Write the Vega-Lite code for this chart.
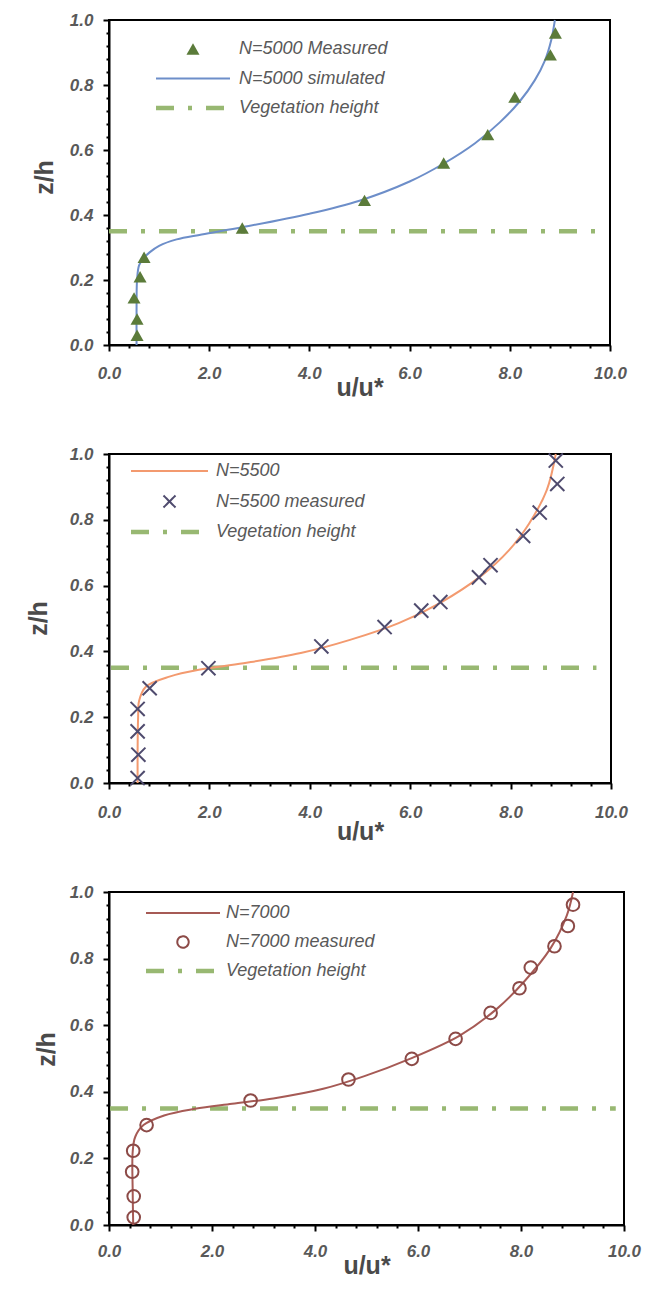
{
  "$schema": "https://vega.github.io/schema/vega-lite/v6.json",
  "padding": {"left": 25, "top": 10, "right": 4, "bottom": 4},
  "background": "white",
  "bounds": "flush",
  "spacing": 109,
  "resolve": {"scale": {"color": "independent"}, "legend": {"color": "independent"}},
  "config": {
    "view": {"stroke": "#000000", "strokeWidth": 2},
    "axis": {
      "grid": false,
      "labelFont": "Liberation Sans",
      "labelFontSize": 17,
      "labelFontStyle": "italic",
      "labelFontWeight": "bold",
      "labelColor": "#595959",
      "titleFont": "Liberation Sans",
      "titleFontWeight": "bold",
      "titleFontSize": 25,
      "titleColor": "#4a4a4a",
      "tickColor": "#000000",
      "tickWidth": 2,
      "tickSize": 6,
      "domainColor": "#000000",
      "domainWidth": 2
    },
    "legend": {
      "labelFont": "Liberation Sans",
      "labelFontSize": 18,
      "labelFontStyle": "italic",
      "labelColor": "#595959",
      "padding": 0,
      "title": null
    }
  },
  "datasets": {
    "p1_meas": [
      {"u": 0.56, "z": 0.03, "series": "N=5000 Measured"},
      {"u": 0.56, "z": 0.08, "series": "N=5000 Measured"},
      {"u": 0.5, "z": 0.145, "series": "N=5000 Measured"},
      {"u": 0.62, "z": 0.21, "series": "N=5000 Measured"},
      {"u": 0.7, "z": 0.27, "series": "N=5000 Measured"},
      {"u": 2.66, "z": 0.36, "series": "N=5000 Measured"},
      {"u": 5.1, "z": 0.445, "series": "N=5000 Measured"},
      {"u": 6.68, "z": 0.56, "series": "N=5000 Measured"},
      {"u": 7.56, "z": 0.647, "series": "N=5000 Measured"},
      {"u": 8.1, "z": 0.763, "series": "N=5000 Measured"},
      {"u": 8.81, "z": 0.893, "series": "N=5000 Measured"},
      {"u": 8.91, "z": 0.96, "series": "N=5000 Measured"}
    ],
    "p1_sim": [
      {"u": 0.55, "z": 0.0, "series": "N=5000 simulated"},
      {"u": 0.55, "z": 0.1, "series": "N=5000 simulated"},
      {"u": 0.56, "z": 0.2, "series": "N=5000 simulated"},
      {"u": 0.6, "z": 0.245, "series": "N=5000 simulated"},
      {"u": 0.68, "z": 0.265, "series": "N=5000 simulated"},
      {"u": 0.81, "z": 0.285, "series": "N=5000 simulated"},
      {"u": 1.0, "z": 0.305, "series": "N=5000 simulated"},
      {"u": 1.35, "z": 0.325, "series": "N=5000 simulated"},
      {"u": 1.85, "z": 0.34, "series": "N=5000 simulated"},
      {"u": 2.68, "z": 0.363, "series": "N=5000 simulated"},
      {"u": 4.0, "z": 0.404, "series": "N=5000 simulated"},
      {"u": 5.0, "z": 0.444, "series": "N=5000 simulated"},
      {"u": 6.0, "z": 0.503, "series": "N=5000 simulated"},
      {"u": 6.7, "z": 0.56, "series": "N=5000 simulated"},
      {"u": 7.3, "z": 0.62, "series": "N=5000 simulated"},
      {"u": 7.8, "z": 0.685, "series": "N=5000 simulated"},
      {"u": 8.2, "z": 0.75, "series": "N=5000 simulated"},
      {"u": 8.5, "z": 0.815, "series": "N=5000 simulated"},
      {"u": 8.7, "z": 0.875, "series": "N=5000 simulated"},
      {"u": 8.83, "z": 0.94, "series": "N=5000 simulated"},
      {"u": 8.9, "z": 1.0, "series": "N=5000 simulated"}
    ],
    "p1_veg": [
      {"u": 0.0, "z": 0.35, "series": "Vegetation height"},
      {"u": 9.85, "z": 0.35, "series": "Vegetation height"}
    ],
    "p2_meas": [
      {"u": 0.57, "z": 0.015, "series": "N=5500 measured"},
      {"u": 0.585, "z": 0.086, "series": "N=5500 measured"},
      {"u": 0.57, "z": 0.157, "series": "N=5500 measured"},
      {"u": 0.57, "z": 0.225, "series": "N=5500 measured"},
      {"u": 0.81, "z": 0.288, "series": "N=5500 measured"},
      {"u": 1.98, "z": 0.349, "series": "N=5500 measured"},
      {"u": 4.23, "z": 0.415, "series": "N=5500 measured"},
      {"u": 5.49, "z": 0.474, "series": "N=5500 measured"},
      {"u": 6.22, "z": 0.524, "series": "N=5500 measured"},
      {"u": 6.6, "z": 0.55, "series": "N=5500 measured"},
      {"u": 7.37, "z": 0.625, "series": "N=5500 measured"},
      {"u": 7.6, "z": 0.662, "series": "N=5500 measured"},
      {"u": 8.25, "z": 0.751, "series": "N=5500 measured"},
      {"u": 8.58, "z": 0.822, "series": "N=5500 measured"},
      {"u": 8.93, "z": 0.909, "series": "N=5500 measured"},
      {"u": 8.9, "z": 0.98, "series": "N=5500 measured"}
    ],
    "p2_sim": [
      {"u": 0.57, "z": 0.0, "series": "N=5500"},
      {"u": 0.57, "z": 0.1, "series": "N=5500"},
      {"u": 0.58, "z": 0.2, "series": "N=5500"},
      {"u": 0.6, "z": 0.25, "series": "N=5500"},
      {"u": 0.73, "z": 0.292, "series": "N=5500"},
      {"u": 1.22, "z": 0.324, "series": "N=5500"},
      {"u": 1.79, "z": 0.344, "series": "N=5500"},
      {"u": 2.68, "z": 0.364, "series": "N=5500"},
      {"u": 3.82, "z": 0.395, "series": "N=5500"},
      {"u": 4.8, "z": 0.435, "series": "N=5500"},
      {"u": 5.77, "z": 0.486, "series": "N=5500"},
      {"u": 6.59, "z": 0.547, "series": "N=5500"},
      {"u": 7.4, "z": 0.628, "series": "N=5500"},
      {"u": 7.97, "z": 0.708, "series": "N=5500"},
      {"u": 8.37, "z": 0.789, "series": "N=5500"},
      {"u": 8.72, "z": 0.89, "series": "N=5500"},
      {"u": 8.9, "z": 1.0, "series": "N=5500"}
    ],
    "p2_veg": [
      {"u": 0.04, "z": 0.35, "series": "Vegetation height"},
      {"u": 9.71, "z": 0.35, "series": "Vegetation height"}
    ],
    "p3_meas": [
      {"u": 0.48, "z": 0.023, "series": "N=7000 measured"},
      {"u": 0.48, "z": 0.086, "series": "N=7000 measured"},
      {"u": 0.45, "z": 0.16, "series": "N=7000 measured"},
      {"u": 0.47, "z": 0.223, "series": "N=7000 measured"},
      {"u": 0.73, "z": 0.3, "series": "N=7000 measured"},
      {"u": 2.75, "z": 0.374, "series": "N=7000 measured"},
      {"u": 4.65, "z": 0.437, "series": "N=7000 measured"},
      {"u": 5.88, "z": 0.499, "series": "N=7000 measured"},
      {"u": 6.73, "z": 0.559, "series": "N=7000 measured"},
      {"u": 7.41, "z": 0.637, "series": "N=7000 measured"},
      {"u": 7.97, "z": 0.711, "series": "N=7000 measured"},
      {"u": 8.19, "z": 0.773, "series": "N=7000 measured"},
      {"u": 8.65, "z": 0.837, "series": "N=7000 measured"},
      {"u": 8.91, "z": 0.898, "series": "N=7000 measured"},
      {"u": 9.01, "z": 0.962, "series": "N=7000 measured"}
    ],
    "p3_sim": [
      {"u": 0.47, "z": 0.0, "series": "N=7000"},
      {"u": 0.46, "z": 0.1, "series": "N=7000"},
      {"u": 0.46, "z": 0.22, "series": "N=7000"},
      {"u": 0.51, "z": 0.265, "series": "N=7000"},
      {"u": 0.67, "z": 0.3, "series": "N=7000"},
      {"u": 1.07, "z": 0.329, "series": "N=7000"},
      {"u": 1.67, "z": 0.349, "series": "N=7000"},
      {"u": 2.39, "z": 0.364, "series": "N=7000"},
      {"u": 3.19, "z": 0.38, "series": "N=7000"},
      {"u": 4.16, "z": 0.409, "series": "N=7000"},
      {"u": 4.96, "z": 0.447, "series": "N=7000"},
      {"u": 5.84, "z": 0.499, "series": "N=7000"},
      {"u": 6.81, "z": 0.569, "series": "N=7000"},
      {"u": 7.53, "z": 0.649, "series": "N=7000"},
      {"u": 8.05, "z": 0.729, "series": "N=7000"},
      {"u": 8.57, "z": 0.83, "series": "N=7000"},
      {"u": 8.89, "z": 0.93, "series": "N=7000"},
      {"u": 9.01, "z": 1.0, "series": "N=7000"}
    ],
    "p3_veg": [
      {"u": 0.02, "z": 0.35, "series": "Vegetation height"},
      {"u": 9.84, "z": 0.35, "series": "Vegetation height"}
    ]
  },
  "vconcat": [
    {
      "width": 501,
      "height": 325,
      "encoding": {
        "x": {
          "field": "u", "type": "quantitative",
          "scale": {"domain": [0, 10], "nice": false, "zero": false},
          "axis": {
            "values": [0,0.4,0.8,1.2,1.6,2,2.4,2.8,3.2,3.6,4,4.4,4.8,5.2,5.6,6,6.4,6.8,7.2,7.6,8,8.4,8.8,9.2,9.6,10],
            "labelExpr": "round(datum.value*10) % 20 === 0 ? format(datum.value, '.1f') : ''",
            "tickSize": {"condition": {"test": "round(datum.value*10) % 20 === 0", "value": 6}, "value": 3},
            "labelPadding": 14,
            "labelFlush": false,
            "title": "u/u*",
            "titleY": 42,
            "titleBaseline": "middle"
          }
        },
        "y": {
          "field": "z", "type": "quantitative",
          "scale": {"domain": [0, 1], "nice": false},
          "axis": {
            "values": [0,0.04,0.08,0.12,0.16,0.2,0.24,0.28,0.32,0.36,0.4,0.44,0.48,0.52,0.56,0.6,0.64,0.68,0.72,0.76,0.8,0.84,0.88,0.92,0.96,1],
            "labelExpr": "round(datum.value*100) % 20 === 0 ? format(datum.value, '.1f') : ''",
            "tickSize": {"condition": {"test": "round(datum.value*100) % 20 === 0", "value": 6}, "value": 3},
            "labelPadding": 10,
            "labelFlush": false,
            "title": "z/h",
            "titleX": -65,
            "titleY": 157,
            "titleBaseline": "middle",
            "titleAngle": -90
          }
        },
        "color": {
          "field": "series", "type": "nominal",
          "scale": {"domain": ["N=5000 Measured", "N=5000 simulated", "Vegetation height"], "range": ["#5b7b3a", "#6d8ec9", "#98b872"]},
          "legend": {
            "orient": "none", "legendX": 47, "legendY": 21,
            "clipHeight": 16, "rowPadding": 11.5, "labelOffset": 9,
            "encode": {
              "symbols": {"update": {
                "x": {"value": 37},
                "shape": {"signal": "datum.value === 'N=5000 Measured' ? 'triangle-up' : 'stroke'"},
                "size": {"signal": "datum.value === 'N=5000 Measured' ? 170 : 5476"},
                "strokeWidth": {"signal": "datum.value === 'Vegetation height' ? 4.5 : datum.value === 'N=5000 Measured' ? 0 : 2"},
                "strokeDash": {"signal": "datum.value === 'Vegetation height' ? [18,14,4,14] : [1,0]"},
                "fill": {"signal": "datum.value === 'N=5000 Measured' ? '#5b7b3a' : 'transparent'"},
                "stroke": {"signal": "datum.value === 'Vegetation height' ? '#98b872' : datum.value === 'N=5000 Measured' ? '#5b7b3a' : '#6d8ec9'"},
                "opacity": {"value": 1}
              }},
              "labels": {"update": {"x": {"value": 83}}}
            }
          }
        }
      },
      "layer": [
        {"data": {"name": "p1_veg"}, "mark": {"type": "line", "strokeWidth": 4.5, "strokeDash": [18, 14, 4, 14]}, "encoding": {}},
        {"data": {"name": "p1_sim"}, "mark": {"type": "line", "strokeWidth": 2, "interpolate": "catmull-rom"}, "encoding": {"order": {"field": "z", "type": "quantitative"}}},
        {"data": {"name": "p1_meas"}, "mark": {"type": "point", "shape": "triangle-up", "filled": true, "size": 170, "opacity": 1}, "encoding": {}}
      ]
    },
    {
      "width": 502,
      "height": 329,
      "encoding": {
        "x": {
          "field": "u", "type": "quantitative",
          "scale": {"domain": [0, 10], "nice": false, "zero": false},
          "axis": {
            "values": [0,0.4,0.8,1.2,1.6,2,2.4,2.8,3.2,3.6,4,4.4,4.8,5.2,5.6,6,6.4,6.8,7.2,7.6,8,8.4,8.8,9.2,9.6,10],
            "labelExpr": "round(datum.value*10) % 20 === 0 ? format(datum.value, '.1f') : ''",
            "tickSize": {"condition": {"test": "round(datum.value*10) % 20 === 0", "value": 6}, "value": 3},
            "labelPadding": 15,
            "labelFlush": false,
            "title": "u/u*",
            "titleY": 48,
            "titleBaseline": "middle"
          }
        },
        "y": {
          "field": "z", "type": "quantitative",
          "scale": {"domain": [0, 1], "nice": false},
          "axis": {
            "values": [0,0.04,0.08,0.12,0.16,0.2,0.24,0.28,0.32,0.36,0.4,0.44,0.48,0.52,0.56,0.6,0.64,0.68,0.72,0.76,0.8,0.84,0.88,0.92,0.96,1],
            "labelExpr": "round(datum.value*100) % 20 === 0 ? format(datum.value, '.1f') : ''",
            "tickSize": {"condition": {"test": "round(datum.value*100) % 20 === 0", "value": 6}, "value": 3},
            "labelPadding": 10,
            "labelFlush": false,
            "title": "z/h",
            "titleX": -71,
            "titleY": 164,
            "titleBaseline": "middle",
            "titleAngle": -90
          }
        },
        "color": {
          "field": "series", "type": "nominal",
          "scale": {"domain": ["N=5500", "N=5500 measured", "Vegetation height"], "range": ["#f39a6f", "#4f4b6e", "#98b872"]},
          "legend": {
            "orient": "none", "legendX": 22, "legendY": 9,
            "clipHeight": 16, "rowPadding": 12.5, "labelOffset": 8,
            "encode": {
              "symbols": {"update": {
                "x": {"value": 38.5},
                "shape": {"signal": "datum.value === 'N=5500 measured' ? 'M-1,-1L1,1M1,-1L-1,1' : 'stroke'"},
                "size": {"signal": "datum.value === 'N=5500 measured' ? 144 : 5929"},
                "strokeWidth": {"signal": "datum.value === 'Vegetation height' ? 4.5 : 2"},
                "strokeDash": {"signal": "datum.value === 'Vegetation height' ? [18,14,4,14] : [1,0]"},
                "fill": {"value": "transparent"},
                "stroke": {"signal": "datum.value === 'Vegetation height' ? '#98b872' : datum.value === 'N=5500 measured' ? '#4f4b6e' : '#f39a6f'"},
                "opacity": {"value": 1}
              }},
              "labels": {"update": {"x": {"value": 85}}}
            }
          }
        }
      },
      "layer": [
        {"data": {"name": "p2_veg"}, "mark": {"type": "line", "strokeWidth": 4.5, "strokeDash": [18, 14, 4, 14]}, "encoding": {}},
        {"data": {"name": "p2_sim"}, "mark": {"type": "line", "strokeWidth": 2, "interpolate": "catmull-rom"}, "encoding": {"order": {"field": "z", "type": "quantitative"}}},
        {"data": {"name": "p2_meas"}, "mark": {"type": "point", "shape": "M-1,-1L1,1M1,-1L-1,1", "filled": false, "size": 200, "strokeWidth": 2, "opacity": 1}, "encoding": {}}
      ]
    },
    {
      "width": 515,
      "height": 333,
      "encoding": {
        "x": {
          "field": "u", "type": "quantitative",
          "scale": {"domain": [0, 10], "nice": false, "zero": false},
          "axis": {
            "values": [0,0.4,0.8,1.2,1.6,2,2.4,2.8,3.2,3.6,4,4.4,4.8,5.2,5.6,6,6.4,6.8,7.2,7.6,8,8.4,8.8,9.2,9.6,10],
            "labelExpr": "round(datum.value*10) % 20 === 0 ? format(datum.value, '.1f') : ''",
            "tickSize": {"condition": {"test": "round(datum.value*10) % 20 === 0", "value": 6}, "value": 3},
            "labelPadding": 12,
            "labelFlush": false,
            "title": "u/u*",
            "titleY": 40,
            "titleBaseline": "middle"
          }
        },
        "y": {
          "field": "z", "type": "quantitative",
          "scale": {"domain": [0, 1], "nice": false},
          "axis": {
            "values": [0,0.04,0.08,0.12,0.16,0.2,0.24,0.28,0.32,0.36,0.4,0.44,0.48,0.52,0.56,0.6,0.64,0.68,0.72,0.76,0.8,0.84,0.88,0.92,0.96,1],
            "labelExpr": "round(datum.value*100) % 20 === 0 ? format(datum.value, '.1f') : ''",
            "tickSize": {"condition": {"test": "round(datum.value*100) % 20 === 0", "value": 6}, "value": 3},
            "labelPadding": 10,
            "labelFlush": false,
            "title": "z/h",
            "titleX": -63,
            "titleY": 157,
            "titleBaseline": "middle",
            "titleAngle": -90
          }
        },
        "color": {
          "field": "series", "type": "nominal",
          "scale": {"domain": ["N=7000", "N=7000 measured", "Vegetation height"], "range": ["#a65a55", "#8c4a47", "#98b872"]},
          "legend": {
            "orient": "none", "legendX": 37, "legendY": 13,
            "clipHeight": 16, "rowPadding": 11, "labelOffset": 6,
            "encode": {
              "symbols": {"update": {
                "x": {"value": 37},
                "shape": {"signal": "datum.value === 'N=7000 measured' ? 'circle' : 'stroke'"},
                "size": {"signal": "datum.value === 'N=7000 measured' ? 130 : 5476"},
                "strokeWidth": {"signal": "datum.value === 'Vegetation height' ? 4.5 : 2"},
                "strokeDash": {"signal": "datum.value === 'Vegetation height' ? [18,14,4,14] : [1,0]"},
                "fill": {"value": "transparent"},
                "stroke": {"signal": "datum.value === 'Vegetation height' ? '#98b872' : datum.value === 'N=7000 measured' ? '#8c4a47' : '#a65a55'"},
                "opacity": {"value": 1}
              }},
              "labels": {"update": {"x": {"value": 80}}}
            }
          }
        }
      },
      "layer": [
        {"data": {"name": "p3_veg"}, "mark": {"type": "line", "strokeWidth": 4.5, "strokeDash": [18, 14, 4, 14]}, "encoding": {}},
        {"data": {"name": "p3_sim"}, "mark": {"type": "line", "strokeWidth": 2, "interpolate": "catmull-rom"}, "encoding": {"order": {"field": "z", "type": "quantitative"}}},
        {"data": {"name": "p3_meas"}, "mark": {"type": "point", "shape": "circle", "filled": false, "size": 160, "strokeWidth": 2, "opacity": 1}, "encoding": {}}
      ]
    }
  ]
}
